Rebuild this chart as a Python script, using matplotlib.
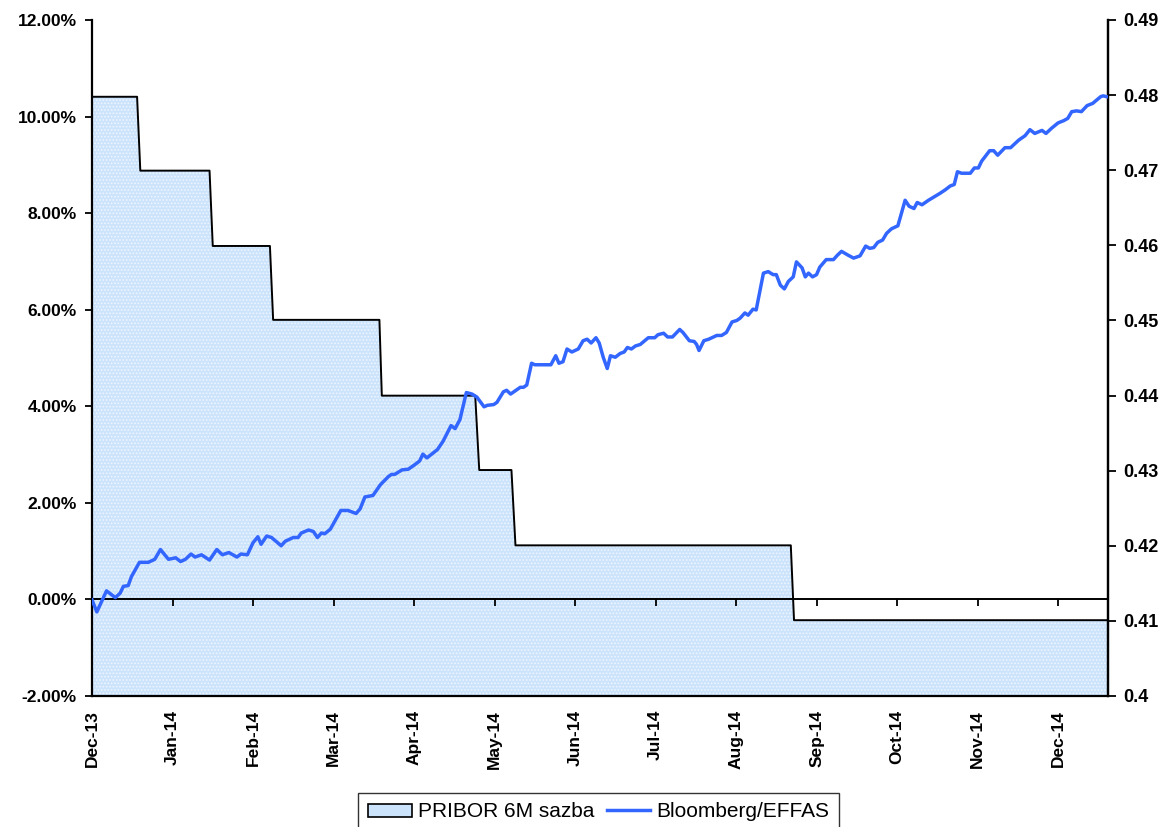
import matplotlib
matplotlib.use("Agg")
import matplotlib.pyplot as plt
from matplotlib.ticker import FuncFormatter
from matplotlib.patches import Patch
from matplotlib.lines import Line2D

plt.rcParams['font.family'] = ['Liberation Sans', 'DejaVu Sans']
plt.rcParams['hatch.linewidth'] = 0.8

# ---- data (x in months since Dec-13) ----
month_labels = ["Dec-13", "Jan-14", "Feb-14", "Mar-14", "Apr-14", "May-14", "Jun-14",
                "Jul-14", "Aug-14", "Sep-14", "Oct-14", "Nov-14", "Dec-14"]

pribor_x = [0.00, 0.56, 0.60, 1.46, 1.50, 2.21, 2.25, 3.57, 3.60, 4.76, 4.81,
            5.21, 5.26, 8.68, 8.72, 12.62]
pribor_pct = [10.41, 10.41, 8.88, 8.88, 7.32, 7.32, 5.79, 5.79, 4.22, 4.22, 2.68,
              2.68, 1.12, 1.12, -0.43, -0.43]

bb_x = [0.00, 0.06, 0.18, 0.29, 0.35, 0.39, 0.45, 0.49, 0.59, 0.70, 0.78, 0.85, 0.95,
        1.04, 1.10, 1.16, 1.23, 1.28, 1.36, 1.46, 1.55, 1.62, 1.70, 1.80, 1.85, 1.93,
        2.00, 2.06, 2.10, 2.17, 2.23, 2.35, 2.40, 2.50, 2.56, 2.60, 2.69, 2.75, 2.80,
        2.85, 2.89, 2.96, 3.09, 3.18, 3.28, 3.33, 3.39, 3.49, 3.58, 3.68, 3.72, 3.76,
        3.85, 3.93, 4.01, 4.07, 4.11, 4.16, 4.22, 4.29, 4.36, 4.46, 4.51, 4.57, 4.65,
        4.72, 4.78, 4.87, 4.91, 4.99, 5.03, 5.11, 5.15, 5.20, 5.28, 5.32, 5.36, 5.40,
        5.46, 5.50, 5.70, 5.76, 5.80, 5.85, 5.90, 5.96, 6.04, 6.10, 6.15, 6.20, 6.26,
        6.30, 6.35, 6.40, 6.44, 6.50, 6.56, 6.61, 6.65, 6.70, 6.75, 6.81, 6.91, 6.99,
        7.03, 7.10, 7.15, 7.21, 7.30, 7.34, 7.42, 7.48, 7.51, 7.54, 7.60, 7.66, 7.72,
        7.76, 7.82, 7.88, 7.95, 8.01, 8.05, 8.11, 8.15, 8.21, 8.25, 8.34, 8.40, 8.46,
        8.50, 8.55, 8.60, 8.65, 8.71, 8.75, 8.82, 8.86, 8.90, 8.95, 9.00, 9.04, 9.12,
        9.21, 9.26, 9.31, 9.39, 9.46, 9.54, 9.61, 9.66, 9.71, 9.76, 9.82, 9.87, 9.93,
        10.01, 10.10, 10.15, 10.21, 10.25, 10.31, 10.39, 10.53, 10.60, 10.66, 10.71,
        10.75, 10.80, 10.91, 10.96, 11.01, 11.05, 11.15, 11.20, 11.25, 11.34, 11.41,
        11.51, 11.59, 11.65, 11.71, 11.80, 11.85, 11.92, 12.00, 12.07, 12.12, 12.17,
        12.23, 12.29, 12.36, 12.43, 12.53, 12.56, 12.60]
bb_value = [0.4128, 0.4112, 0.4140, 0.4131, 0.4137, 0.4146, 0.4147, 0.4159, 0.4178,
            0.4178, 0.4182, 0.4195, 0.4182, 0.4184, 0.4179, 0.4182, 0.4189, 0.4185,
            0.4188, 0.4181, 0.4195, 0.4188, 0.4191, 0.4185, 0.4189, 0.4188, 0.4204,
            0.4212, 0.4202, 0.4213, 0.4211, 0.4200, 0.4206, 0.4211, 0.4211, 0.4217,
            0.4221, 0.4219, 0.4211, 0.4217, 0.4216, 0.4222, 0.4247, 0.4247, 0.4243,
            0.4249, 0.4265, 0.4267, 0.4281, 0.4292, 0.4295, 0.4295, 0.4301, 0.4302,
            0.4308, 0.4313, 0.4322, 0.4317, 0.4322, 0.4328, 0.4339, 0.4360, 0.4356,
            0.4368, 0.4404, 0.4402, 0.4398, 0.4385, 0.4387, 0.4388, 0.4391, 0.4405,
            0.4407, 0.4402, 0.4408, 0.4411, 0.4411, 0.4414, 0.4443, 0.4441, 0.4441,
            0.4453, 0.4443, 0.4445, 0.4462, 0.4458, 0.4462, 0.4473, 0.4475, 0.4470,
            0.4477, 0.4470, 0.4451, 0.4436, 0.4453, 0.4451, 0.4456, 0.4458, 0.4464,
            0.4462, 0.4466, 0.4468, 0.4477, 0.4477, 0.4481, 0.4483, 0.4478, 0.4478,
            0.4488, 0.4484, 0.4473, 0.4472, 0.4468, 0.4460, 0.4473, 0.4475, 0.4478,
            0.4480, 0.4480, 0.4484, 0.4498, 0.4500, 0.4503, 0.4510, 0.4507, 0.4515,
            0.4514, 0.4563, 0.4565, 0.4561, 0.4561, 0.4547, 0.4542, 0.4552, 0.4558,
            0.4578, 0.4570, 0.4558, 0.4563, 0.4558, 0.4561, 0.4571, 0.4581, 0.4581,
            0.4587, 0.4592, 0.4587, 0.4583, 0.4586, 0.4599, 0.4596, 0.4597, 0.4604,
            0.4607, 0.4616, 0.4622, 0.4626, 0.4660, 0.4652, 0.4649, 0.4657, 0.4654,
            0.4660, 0.4669, 0.4674, 0.4679, 0.4681, 0.4698, 0.4696, 0.4696, 0.4703,
            0.4703, 0.4712, 0.4726, 0.4726, 0.4720, 0.4730, 0.4730, 0.4740, 0.4746,
            0.4754, 0.4749, 0.4753, 0.4749, 0.4756, 0.4763, 0.4766, 0.4769, 0.4778,
            0.4779, 0.4778, 0.4786, 0.4789, 0.4798, 0.4799, 0.4798]

left_ticks = [-2, 0, 2, 4, 6, 8, 10, 12]
right_ticks = [0.40, 0.41, 0.42, 0.43, 0.44, 0.45, 0.46, 0.47, 0.48, 0.49]

FILL = '#cce3fc'
LINE = '#3366ff'

fig = plt.figure(figsize=(11.65, 8.27), dpi=100)
ax = fig.add_axes([92/1165, 1 - 696/827, (1108-92)/1165, (696-20)/827])
ax.set_xlim(0, 12.62)
ax.set_ylim(-2, 12)

# area (PRIBOR)
ax.fill_between(pribor_x, -2, pribor_pct, facecolor=FILL, edgecolor='none', zorder=1)
ax.fill_between(pribor_x, -2, pribor_pct, facecolor='none', edgecolor='#eef6ff',
                hatch='.....', linewidth=0, zorder=1.1)
ax.plot(pribor_x, pribor_pct, color='black', lw=1.4, zorder=2)

# zero line
ax.axhline(0, color='black', lw=1.4, zorder=2.5)

ax.set_yticks(left_ticks)
ax.yaxis.set_major_formatter(FuncFormatter(lambda v, p: f"{v:.2f}%"))
ax.tick_params(axis='y', direction='out', length=5, width=1.3, pad=6, labelsize=12.5)
for lab in ax.get_yticklabels():
    lab.set_fontweight('bold')

ax.set_xticks(range(len(month_labels)))
ax.set_xticklabels(month_labels, rotation=90, fontweight='bold', fontsize=12.5,
                   va='top', ha='center')
ax.tick_params(axis='x', length=0, pad=10)

# tick marks on the zero line
sec = ax.secondary_xaxis((0 - (-2)) / 14)
sec.set_zorder(5)
sec.set_xticks(range(1, len(month_labels)))
sec.set_xticklabels([])
sec.tick_params(axis='x', direction='out', length=5, width=1.3)
sec.spines['bottom'].set_visible(False)

ax.spines['top'].set_visible(False)
for s in ['left', 'right', 'bottom']:
    ax.spines[s].set_linewidth(1.6)
    ax.spines[s].set_color('black')

# right axis (Bloomberg/EFFAS)
ax2 = ax.twinx()
ax2.set_ylim(0.40, 0.49)
ax2.set_yticks(right_ticks)
ax2.set_yticklabels([f"{v:g}" for v in right_ticks], fontweight='bold', fontsize=13)
ax2.tick_params(axis='y', direction='out', length=6, width=1.3, pad=5)
ax2.plot(bb_x, bb_value, color=LINE, lw=2.5, zorder=3, solid_joinstyle='round')
ax2.spines['top'].set_visible(False)
ax2.spines['right'].set_linewidth(1.6)
ax2.spines['left'].set_visible(False)
ax2.spines['bottom'].set_visible(False)

handles = [Patch(facecolor=FILL, edgecolor='black', linewidth=1.2, label='PRIBOR 6M sazba'),
           Line2D([0], [0], color=LINE, lw=2.5, label='Bloomberg/EFFAS')]
leg = fig.legend(handles=handles, loc='upper center', bbox_to_anchor=(0.514, 0.041),
                 ncol=2, frameon=True, fancybox=False, fontsize=15, handlelength=2.1,
                 handleheight=0.6, handletextpad=0.3, columnspacing=0.6,
                 borderpad=0.45, borderaxespad=0)
leg.get_frame().set_edgecolor('black')
leg.get_frame().set_linewidth(1.0)
# nudge legend text block downwards inside the frame like the reference
leg._legend_box.set_offset(leg._legend_box.get_offset) if False else None

fig.savefig('out.png', dpi=100)
